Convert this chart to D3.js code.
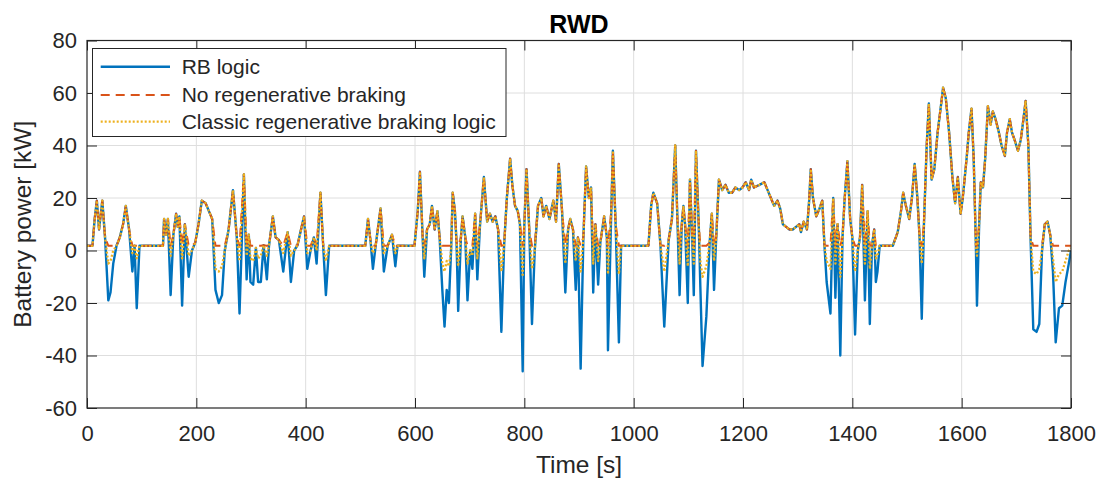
<!DOCTYPE html>
<html>
<head>
<meta charset="utf-8">
<script src="https://cdn.jsdelivr.net/npm/d3@7"></script>
<style>
  body { margin: 0; background: #fff; }
  svg { display: block; font-family: "Liberation Sans", Arial, sans-serif; }
</style>
</head>
<body>
<svg id="chart" width="1105" height="484"></svg>
<script>
// time axis [s] (breakpoints only)
const time = [
  0, 10, 14, 18, 22, 28, 33, 39, 43, 48, 54, 60, 66, 71, 77, 83, 87, 91, 96,
  139, 141, 145, 148, 153, 158, 163, 166, 169, 174, 179, 186, 192, 198, 204, 210, 217, 223, 229, 235, 241, 247, 252, 259, 267, 274,
  279, 287, 292, 296, 299, 304, 309, 313, 318, 323, 329, 333, 340, 345, 351, 359, 367, 373, 379, 385, 397, 403, 409, 415, 420, 427, 432, 437, 443,
  509, 514, 519, 523, 528, 537, 543, 550, 558, 564, 568, 599,
  605, 609, 614, 617, 622, 627, 631, 636, 641, 645, 650, 654, 658, 662, 666, 669, 673, 676, 679, 684, 687, 692, 696, 701, 705, 710, 714, 719, 726, 732, 737, 742, 747, 752,
  758, 763, 768, 774, 778, 783, 788, 792, 797, 800, 804, 809, 814, 819, 825, 831, 835, 840, 846, 853, 858, 863, 869, 875, 880, 884, 889, 894, 898, 903, 908, 913, 918, 922, 926, 930, 935, 939, 946, 951, 953, 959, 962, 967, 973, 977,
  1027, 1032, 1036, 1043, 1049, 1056, 1064, 1070, 1076, 1080, 1084, 1088, 1091, 1094, 1099, 1103, 1107, 1110, 1114, 1119, 1122, 1126, 1133, 1139, 1143, 1147, 1151,
  1156, 1162, 1168, 1174, 1180, 1186, 1193, 1199, 1205, 1211, 1215, 1220, 1230, 1239, 1245, 1251, 1257, 1263, 1268, 1273, 1279, 1285, 1291, 1297, 1303, 1306, 1311, 1317, 1321, 1324, 1328, 1334, 1340, 1345, 1349,
  1353, 1360, 1365, 1369, 1373, 1378, 1382, 1386, 1391, 1396, 1400, 1405, 1410, 1414, 1418, 1423, 1428, 1432, 1436, 1440, 1443, 1446, 1450, 1474,
  1483, 1489, 1493, 1498, 1504, 1509, 1514, 1519, 1523, 1527, 1531, 1536, 1540, 1545, 1550, 1556, 1562, 1566, 1571, 1577, 1583, 1588, 1593, 1598, 1602, 1609, 1613, 1618, 1622, 1626, 1628, 1632, 1635, 1639, 1643, 1648, 1653, 1657, 1662, 1668, 1673, 1679, 1683, 1688, 1692, 1697, 1703, 1708, 1713, 1717, 1722, 1726,
  1731, 1737, 1742, 1747, 1752, 1757, 1762, 1767, 1772, 1778, 1784, 1790, 1796, 1800
];

// battery power [kW], RB logic
const rbLogic = [
  1.8, 1.8, 12, 19, 8, 19, 5, -19, -16, -5, 1.8, 5, 10, 17, 8, -8, 1.8, -22, 1.8,
  1.8, 12, 6, 12, -17, 6, 14, 9, 13, -21, 10, -10, 0, 3, 10, 19, 18, 15, 12, -15, -20, -17, 0, 8, 23, 5,
  -24, 29, -11, 6, -12, -13, 1, -12, -12, 2, -11, 2, 13, 5, 4, -8, 7, -12, 0, 2, 13, -7, 0, 5, -5, 22, 2, -17, 1.8,
  1.8, 12, 3, -7, 1.8, 16, -8, 1.8, 6, -6, 1.8, 1.8,
  15, 30, 5, -10, 8, 10, 17, 8, 15, 5, -15, -29, -15, -20, 0, 22, 15, 3, -23, 5, 13, 5, -19, 0, -7, 14, -11, 10, 28, 11, 14, 11, 13, 8,
  -31, 2, 20, 35, 25, 17, 15, 10, -46, 10, 31, 8, -28, 0, 17, 20, 13, 17, 12, 19, 11, 33, 15, -16, 8, 12, 8, -15, 5, -45, 5, 32, 20, 24, -16, 10, -13, 3, 13, 5, -38, 15, 38, 10, -35, 1.8,
  1.8, 17, 22, 18, 2, -29, 4, 12, 40, 12, -17, 10, 17, 10, -20, 27, 5, -17, 38, 10, -14, -44, -25, 3, 14, -15, 5,
  27, 23, 25, 22, 22, 24, 23, 24, 26, 23, 27, 24, 25, 26, 23, 20, 17, 19, 16, 10, 9, 8, 8, 9, 10, 7, 11, 8, 19, 31, 20, 13, 16, 19, 2,
  -12, -24, 20, -18, 10, -40, 5, 20, 34, 12, 5, -32, 0, 5, 25, -19, 15, -28, 2, 8, -12, -8, 1.8, 1.8,
  7, 15, 22, 17, 12, 20, 33, 20, 5, -26, 10, 40, 56, 27, 31, 45, 55, 62, 58, 45, 28, 18, 28, 14, 20, 35, 45, 54, 35, 2, -21, 10, 26, 24, 35, 55, 48, 53, 50, 45, 40, 36, 45, 50, 45, 42, 38, 42, 50, 57, 40, 5,
  -30, -31, -28, 0, 10, 11, 6, -8, -35, -22, -21, -12, -5, 0
];

// battery power [kW], no regenerative braking
const noRegen = [
  1.8, 1.8, 12, 19, 8, 19, 5, 1.8, 1.8, 1.8, 1.8, 5, 10, 17, 8, 1.8, 1.8, 1.8, 1.8,
  1.8, 12, 6, 12, 1.8, 6, 14, 9, 13, 1.8, 10, 1.8, 1.8, 3, 10, 19, 18, 15, 12, 1.8, 1.8, 1.8, 1.8, 8, 23, 5,
  1.8, 29, 1.8, 6, 1.8, 1.8, 1.8, 1.8, 1.8, 2, 1.8, 2, 13, 5, 4, 1.8, 7, 1.8, 1.8, 2, 13, 1.8, 1.8, 5, 1.8, 22, 2, 1.8, 1.8,
  1.8, 12, 3, 1.8, 1.8, 16, 1.8, 1.8, 6, 1.8, 1.8, 1.8,
  15, 30, 5, 1.8, 8, 10, 17, 8, 15, 5, 1.8, 1.8, 1.8, 1.8, 1.8, 22, 15, 3, 1.8, 5, 13, 5, 1.8, 1.8, 1.8, 14, 1.8, 10, 28, 11, 14, 11, 13, 8,
  1.8, 2, 20, 35, 25, 17, 15, 10, 1.8, 10, 31, 8, 1.8, 1.8, 17, 20, 13, 17, 12, 19, 11, 33, 15, 1.8, 8, 12, 8, 1.8, 5, 1.8, 5, 32, 20, 24, 1.8, 10, 1.8, 3, 13, 5, 1.8, 15, 38, 10, 1.8, 1.8,
  1.8, 17, 22, 18, 2, 1.8, 4, 12, 40, 12, 1.8, 10, 17, 10, 1.8, 27, 5, 1.8, 38, 10, 1.8, 1.8, 1.8, 3, 14, 1.8, 5,
  27, 23, 25, 22, 22, 24, 23, 24, 26, 23, 27, 24, 25, 26, 23, 20, 17, 19, 16, 10, 9, 8, 8, 9, 10, 7, 11, 8, 19, 31, 20, 13, 16, 19, 2,
  1.8, 1.8, 20, 1.8, 10, 1.8, 5, 20, 34, 12, 5, 1.8, 1.8, 5, 25, 1.8, 15, 1.8, 2, 8, 1.8, 1.8, 1.8, 1.8,
  7, 15, 22, 17, 12, 20, 33, 20, 5, 1.8, 10, 40, 56, 27, 31, 45, 55, 62, 58, 45, 28, 18, 28, 14, 20, 35, 45, 54, 35, 2, 1.8, 10, 26, 24, 35, 55, 48, 53, 50, 45, 40, 36, 45, 50, 45, 42, 38, 42, 50, 57, 40, 5,
  1.8, 1.8, 1.8, 1.8, 10, 11, 6, 1.8, 1.8, 1.8, 1.8, 1.8, 1.8, 1.8
];

// battery power [kW], classic regenerative braking logic
const classicLogic = [
  1.8, 1.8, 12, 19, 8, 19, 5, -5, -4, 0, 1.8, 5, 10, 17, 8, -1, 1.8, -3, 1.8,
  1.8, 12, 6, 12, -2, 6, 14, 9, 13, -3, 10, -2, 0, 3, 10, 19, 18, 15, 12, -7, -8, -6, 0, 8, 23, 5,
  -4, 29, -2, 6, -3, -4, 1, -3, -2, 2, -2, 2, 13, 5, 4, -1, 7, -2, 0, 2, 13, -1, 0, 5, 0, 22, 2, -4, 1.8,
  1.8, 12, 3, -1, 1.8, 16, -1, 1.8, 6, -1, 1.8, 1.8,
  15, 30, 5, -3, 8, 10, 17, 8, 15, 5, -5, -8, -4, -6, 0, 22, 15, 3, -6, 5, 13, 5, -5, 0, -2, 14, -3, 10, 28, 11, 14, 11, 13, 8,
  -8, 2, 20, 35, 25, 17, 15, 10, -10, 10, 31, 8, -7, 0, 17, 20, 13, 17, 12, 19, 11, 33, 15, -5, 8, 12, 8, -4, 5, -8, 5, 32, 20, 24, -5, 10, -4, 3, 13, 5, -9, 15, 38, 10, -9, 1.8,
  1.8, 17, 22, 18, 2, -8, 4, 12, 40, 12, -5, 10, 17, 10, -6, 27, 5, -5, 38, 10, -4, -10, -6, 3, 14, -4, 5,
  27, 23, 25, 22, 22, 24, 23, 24, 26, 23, 27, 24, 25, 26, 23, 20, 17, 19, 16, 10, 9, 8, 8, 9, 10, 7, 11, 8, 19, 31, 20, 13, 16, 19, 2,
  -4, -7, 20, -5, 10, -10, 5, 20, 34, 12, 5, -8, 0, 5, 25, -5, 15, -7, 2, 8, -3, -2, 1.8, 1.8,
  7, 15, 22, 17, 12, 20, 33, 20, 5, -5, 10, 40, 56, 27, 31, 45, 55, 62, 58, 45, 28, 18, 28, 14, 20, 35, 45, 54, 35, 2, -2, 10, 26, 24, 35, 55, 48, 53, 50, 45, 40, 36, 45, 50, 45, 42, 38, 42, 50, 57, 40, 5,
  -8, -9, -7, 0, 10, 11, 6, -3, -12, -9, -8, -4, 0, 1
];

const xTicks = [0, 200, 400, 600, 800, 1000, 1200, 1400, 1600, 1800];
const yTicks = [-60, -40, -20, 0, 20, 40, 60, 80];
const seriesNames = ['RB logic', 'No regenerative braking', 'Classic regenerative braking logic'];

const box = { left: 87, right: 1071, top: 40.5, bottom: 408 };
const axisColor = '#262626';

const svg = d3.select('#chart');

const x = d3.scaleLinear().domain([0, 1800]).range([box.left, box.right]);
const y = d3.scaleLinear().domain([-60, 80]).range([box.bottom, box.top]);

// grid
svg.append('g')
    .selectAll('line')
    .data(xTicks.slice(1, -1))
    .join('line')
    .attr('x1', d => x(d)).attr('x2', d => x(d))
    .attr('y1', box.top).attr('y2', box.bottom)
    .attr('stroke', '#dedede').attr('stroke-width', 1);

svg.append('g')
    .selectAll('line')
    .data(yTicks.slice(1, -1))
    .join('line')
    .attr('x1', box.left).attr('x2', box.right)
    .attr('y1', d => y(d)).attr('y2', d => y(d))
    .attr('stroke', '#dedede').attr('stroke-width', 1);

// series
svg.append('clipPath').attr('id', 'plotClip')
    .append('rect')
    .attr('x', box.left).attr('y', box.top)
    .attr('width', box.right - box.left).attr('height', box.bottom - box.top);

const series = [
    { name: seriesNames[0], values: rbLogic, color: '#0072BD', dash: null, width: 2.4 },
    { name: seriesNames[1], values: noRegen, color: '#D95319', dash: '9,6', width: 2 },
    { name: seriesNames[2], values: classicLogic, color: '#EDB120', dash: '2,2', width: 2.3 }
];

const line = d3.line()
    .x((d, i) => x(time[i]))
    .y(d => y(d));

const plot = svg.append('g').attr('clip-path', 'url(#plotClip)');
series.forEach(s => {
    plot.append('path')
        .attr('d', line(s.values))
        .attr('fill', 'none')
        .attr('stroke', s.color)
        .attr('stroke-width', s.width)
        .attr('stroke-linejoin', 'round')
        .attr('stroke-dasharray', s.dash);
});

// axes, ticks pointing inward like matlab
const plain = d => String(d);
const styleAxis = (g) => {
    g.select('.domain').remove();
    g.selectAll('.tick line').attr('stroke', axisColor);
    g.selectAll('.tick text').attr('fill', axisColor).attr('font-size', 22)
        .attr('font-family', '"Liberation Sans", Arial, sans-serif');
};

svg.append('g')
    .attr('transform', `translate(0,${box.bottom})`)
    .call(d3.axisBottom(x).tickValues(xTicks).tickFormat(plain).tickSize(-10).tickPadding(17))
    .call(styleAxis);

svg.append('g')
    .attr('transform', `translate(0,${box.top})`)
    .call(d3.axisTop(x).tickValues(xTicks).tickSize(-10).tickFormat(''))
    .call(styleAxis);

svg.append('g')
    .attr('transform', `translate(${box.left},0)`)
    .call(d3.axisLeft(y).tickValues(yTicks).tickFormat(plain).tickSize(-10).tickPadding(10))
    .call(styleAxis);

svg.append('g')
    .attr('transform', `translate(${box.right},0)`)
    .call(d3.axisRight(y).tickValues(yTicks).tickSize(-10).tickFormat(''))
    .call(styleAxis);

svg.append('rect')
    .attr('x', box.left).attr('y', box.top)
    .attr('width', box.right - box.left).attr('height', box.bottom - box.top)
    .attr('fill', 'none').attr('stroke', axisColor).attr('stroke-width', 1.2);

// labels
const midX = (box.left + box.right) / 2;
svg.append('text')
    .attr('x', midX).attr('y', 33)
    .attr('text-anchor', 'middle')
    .attr('font-size', 25).attr('font-weight', 'bold')
    .attr('fill', '#000')
    .text('RWD');

svg.append('text')
    .attr('x', midX).attr('y', 473)
    .attr('text-anchor', 'middle')
    .attr('font-size', 24.5)
    .attr('fill', axisColor)
    .text('Time [s]');

svg.append('text')
    .attr('transform', `translate(31,${(box.top + box.bottom) / 2}) rotate(-90)`)
    .attr('text-anchor', 'middle')
    .attr('font-size', 24.5)
    .attr('fill', axisColor)
    .text('Battery power [kW]');

// legend
const legend = svg.append('g');
legend.append('rect')
    .attr('x', 92.5).attr('y', 48.5)
    .attr('width', 413.5).attr('height', 88)
    .attr('fill', '#fff').attr('stroke', axisColor).attr('stroke-width', 1);

const rowY = [66.7, 95, 121.7];
series.forEach((s, i) => {
    legend.append('line')
        .attr('x1', 100.7).attr('x2', 170)
        .attr('y1', rowY[i]).attr('y2', rowY[i])
        .attr('stroke', s.color)
        .attr('stroke-width', s.width)
        .attr('stroke-dasharray', s.dash);
    legend.append('text')
        .attr('x', 181.7).attr('y', rowY[i] + 7.3)
        .attr('font-size', 21)
        .attr('fill', axisColor)
        .text(s.name);
});
</script>
</body>
</html>
